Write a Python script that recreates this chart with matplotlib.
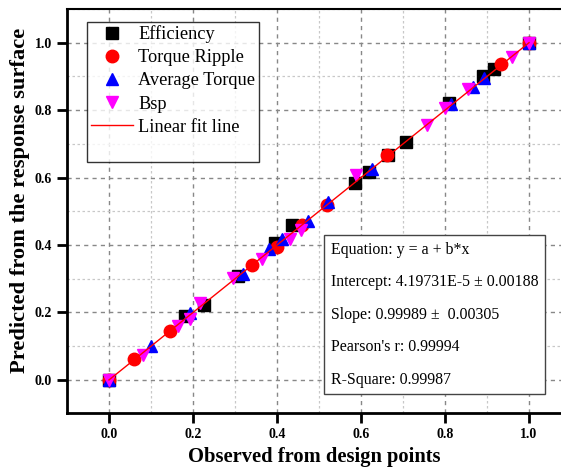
import matplotlib
matplotlib.use("Agg")
import numpy as np
import matplotlib.pyplot as plt
from matplotlib.lines import Line2D
from matplotlib.ticker import MultipleLocator

plt.rcParams.update({
    "font.family": "Liberation Serif",
    "font.size": 11,
})

# observed (x) vs predicted (y), normalised
eff_x = [0, 0.181, 0.226, 0.307, 0.395, 0.436, 0.586, 0.619, 0.665, 0.707, 0.81, 0.89, 0.917, 1.0]
eff_y = [0, 0.190, 0.222, 0.309, 0.405, 0.460, 0.585, 0.617, 0.668, 0.706, 0.822, 0.900, 0.923, 1.0]

rip_x = [0, 0.060, 0.145, 0.340, 0.400, 0.460, 0.518, 0.662, 0.933, 1.0]
rip_y = [0, 0.062, 0.145, 0.341, 0.395, 0.460, 0.520, 0.668, 0.938, 1.0]

avg_x = [0, 0.100, 0.193, 0.319, 0.381, 0.412, 0.474, 0.521, 0.626, 0.814, 0.867, 0.893, 1.0]
avg_y = [0, 0.100, 0.199, 0.315, 0.389, 0.418, 0.472, 0.528, 0.626, 0.819, 0.869, 0.896, 1.0]

bsp_x = [0, 0.081, 0.164, 0.193, 0.217, 0.295, 0.364, 0.430, 0.457, 0.588, 0.757, 0.800, 0.855, 0.960, 1.0]
bsp_y = [0, 0.074, 0.160, 0.181, 0.228, 0.303, 0.359, 0.418, 0.445, 0.608, 0.757, 0.807, 0.864, 0.958, 1.0]

intercept = 4.19731e-5
slope = 0.99989
fit_x = [0.0, 1.0]

stats_lines = [
    "Equation: y = a + b*x",
    "Intercept: 4.19731E-5 \u00b1 0.00188",
    "Slope: 0.99989 \u00b1  0.00305",
    "Pearson's r: 0.99994",
    "R-Square: 0.99987",
]

fig = plt.figure(figsize=(5.61, 4.68), dpi=100)
ax = fig.add_axes([0.1194, 0.1175, 0.8806, 0.8635])

ax.set_xlim(-0.1, 1.076)
ax.set_ylim(-0.098, 1.10)

ax.xaxis.set_major_locator(MultipleLocator(0.2))
ax.yaxis.set_major_locator(MultipleLocator(0.2))
ax.xaxis.set_minor_locator(MultipleLocator(0.1))
ax.yaxis.set_minor_locator(MultipleLocator(0.1))
ax.grid(True, which="major", color="#888888", linestyle=(0, (3, 3)), linewidth=1.0)
ax.grid(True, which="minor", color="#c8c8c8", linestyle=(0, (2, 2)), linewidth=0.9)
ax.set_axisbelow(True)

ms = 8
ax.plot(eff_x, eff_y, "s", color="black", ms=ms, label="Efficiency")
ax.plot(rip_x, rip_y, "o", color="red", ms=ms + 1, label="Torque Ripple")
ax.plot(avg_x, avg_y, "^", color="blue", ms=ms + 1, label="Average Torque")
ax.plot(bsp_x, bsp_y, "v", color="magenta", ms=ms + 1, label="Bsp")
fx = np.array(fit_x)
ax.plot(fx, intercept + slope * fx, color="red", lw=1.0, label="Linear fit line")

handles, labels = ax.get_legend_handles_labels()
handles.append(Line2D([], [], linestyle="none"))
labels.append(" ")
leg = ax.legend(handles, labels, loc="upper left", bbox_to_anchor=(0.0405, 0.968),
                fontsize=13.2, frameon=True, fancybox=False, borderpad=0.2,
                labelspacing=0.33, handlelength=2.3, handletextpad=0.3,
                borderaxespad=0)
leg.get_frame().set_edgecolor("black")
leg.get_frame().set_linewidth(1.0)

ax.text(0.534, 0.424, "\n".join(stats_lines), transform=ax.transAxes,
        fontsize=11.4, va="top", ha="left", linespacing=2.38,
        bbox=dict(boxstyle="square,pad=0.4", facecolor="white",
                  edgecolor="#444444", linewidth=1.0))

for side in ["left", "bottom"]:
    ax.spines[side].set_linewidth(2.0)
ax.spines["top"].set_linewidth(1.5)
ax.spines["right"].set_visible(False)

ax.tick_params(which="major", direction="out", length=7.2, width=2, labelsize=10, pad=3.5)
ax.tick_params(which="minor", length=0)
for lab in ax.get_xticklabels() + ax.get_yticklabels():
    lab.set_fontweight("bold")

ax.set_xlabel("Observed from design points", fontsize=14.8, fontweight="bold")
ax.set_ylabel("Predicted from the response surface", fontsize=16.2, fontweight="bold")
ax.xaxis.set_label_coords(0.5, -0.085)
ax.yaxis.set_label_coords(-0.074, 0.527)

fig.savefig("out.png", dpi=100)
